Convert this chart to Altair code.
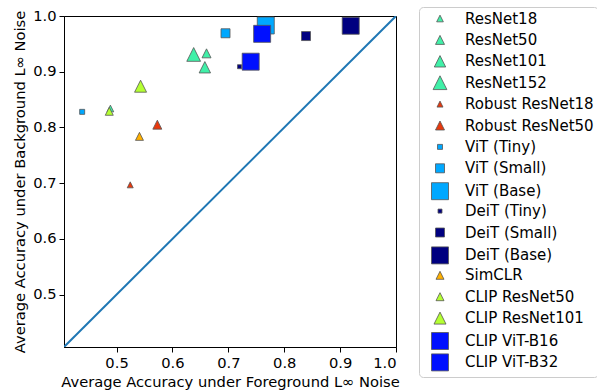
import altair as alt
import pandas as pd

models = ["ResNet18", "ResNet50", "ResNet101", "ResNet152",
          "Robust ResNet18", "Robust ResNet50",
          "ViT (Tiny)", "ViT (Small)", "ViT (Base)",
          "DeiT (Tiny)", "DeiT (Small)", "DeiT (Base)",
          "SimCLR", "CLIP ResNet50", "CLIP ResNet101",
          "CLIP ViT-B16", "CLIP ViT-B32"]
fg_acc = [0.489, 0.661, 0.658, 0.638,
          0.5245, 0.573,
          0.4385, 0.695, 0.767,
          0.720, 0.839, 0.919,
          0.541, 0.487, 0.543,
          0.7605, 0.740]
bg_acc = [0.834, 0.933, 0.908, 0.931,
          0.697, 0.805,
          0.828, 0.969, 0.983,
          0.909, 0.964, 0.9825,
          0.784, 0.829, 0.874,
          0.968, 0.918]
colors = ["#40F0A8", "#40F0A8", "#40F0A8", "#40F0A8",
          "#E8380C", "#E8380C",
          "#00A8FF", "#00A8FF", "#00A8FF",
          "#000080", "#000080", "#000080",
          "#FFB000", "#B4FF32", "#B4FF32",
          "#0010FF", "#0010FF"]
TRI = "M0,-1L-1,1L1,1Z"
SQ = "square"
shapes = [TRI, TRI, TRI, TRI, TRI, TRI, SQ, SQ, SQ, SQ, SQ, SQ, TRI, TRI, TRI, SQ, SQ]
sizes = [45, 81, 130, 190, 36, 81, 25, 81, 289, 16, 81, 289, 64, 64, 144, 289, 289]

diag = [0.406, 1.0]

df = pd.DataFrame({"model": models, "fg": fg_acc, "bg": bg_acc})
line_df = pd.DataFrame({"v": diag})

xscale = alt.Scale(domain=[0.406, 1.0], nice=False, zero=False)
yscale = alt.Scale(domain=[0.406, 1.0], nice=False, zero=False)

font = "DejaVu Sans"
FS = 14.7
xaxis = alt.Axis(title="Average Accuracy under Foreground L∞ Noise",
                 values=[0.5, 0.6, 0.7, 0.8, 0.9, 1.0], format=".1f",
                 grid=False, tickColor="black", domainColor="black",
                 labelColor="black", titleColor="black",
                 labelFontSize=FS, titleFontSize=FS, labelFont=font, titleFont=font,
                 titleFontWeight="normal", tickSize=5, labelPadding=3, titlePadding=5)
yaxis = alt.Axis(title="Average Accuracy under Background L∞ Noise",
                 values=[0.5, 0.6, 0.7, 0.8, 0.9, 1.0], format=".1f",
                 grid=False, tickColor="black", domainColor="black",
                 labelColor="black", titleColor="black",
                 labelFontSize=FS, titleFontSize=FS, labelFont=font, titleFont=font,
                 titleFontWeight="normal", tickSize=5, labelPadding=3, titlePadding=5)

line = alt.Chart(line_df).mark_line(color="#1f77b4", strokeWidth=2, clip=True).encode(
    x=alt.X("v:Q", scale=xscale, axis=xaxis),
    y=alt.Y("v:Q", scale=yscale, axis=yaxis),
)

legend = alt.Legend(title=None, orient="none", legendX=355, legendY=-9,
                    labelFont=font, labelFontSize=15, labelColor="black",
                    strokeColor="#cccccc", cornerRadius=4, fillColor="white",
                    padding=4, rowPadding=-0.6, labelOffset=16, symbolOffset=8,
                    gridAlign="all", columns=1,
                    symbolStrokeColor="#555555", symbolStrokeWidth=0.8)

pts = alt.Chart(df).mark_point(filled=True, opacity=1, stroke="#555555",
                               strokeWidth=0.8, clip=True).encode(
    x=alt.X("fg:Q", scale=xscale, axis=xaxis),
    y=alt.Y("bg:Q", scale=yscale, axis=yaxis),
    color=alt.Color("model:N", scale=alt.Scale(domain=models, range=colors), legend=legend),
    shape=alt.Shape("model:N", scale=alt.Scale(domain=models, range=shapes), legend=legend),
    size=alt.Size("model:N", scale=alt.Scale(type="ordinal", domain=models, range=sizes), legend=legend),
)

chart = alt.layer(line, pts).properties(
    width=332, height=331,
    autosize=alt.AutoSizeParams(type="none"),
    padding={"left": 64, "top": 16, "right": 201, "bottom": 45},
).configure_view(stroke="black", strokeWidth=1)

chart.save("out.html", embed_options={"renderer": "svg", "actions": False})
